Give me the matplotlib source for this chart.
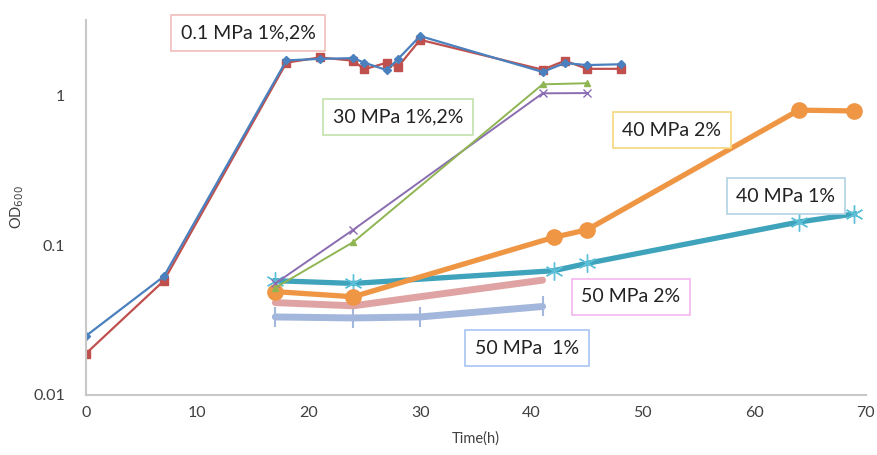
import matplotlib
matplotlib.use("Agg")
import matplotlib.pyplot as plt

# 0.1 MPa
t_01_1 = [0, 7, 18, 21, 24, 25, 27, 28, 30, 41, 43, 45, 48]
od_01_1 = [0.0248, 0.062, 1.72, 1.76, 1.78, 1.66, 1.48, 1.75, 2.50, 1.44, 1.65, 1.60, 1.62]
t_01_2 = [0, 7, 18, 21, 24, 25, 27, 28, 30, 41, 43, 45, 48]
od_01_2 = [0.0189, 0.058, 1.66, 1.80, 1.71, 1.50, 1.66, 1.55, 2.36, 1.49, 1.71, 1.51, 1.51]

# 30 MPa
t_30 = [17, 24, 41, 45]
od_30_1 = [0.0556, 0.127, 1.036, 1.04]
od_30_2 = [0.052, 0.105, 1.19, 1.21]

# 40 MPa
t_40 = [17, 24, 42, 45, 64, 69]
od_40_1 = [0.058, 0.0556, 0.0676, 0.0757, 0.143, 0.162]
od_40_2 = [0.049, 0.0453, 0.113, 0.127, 0.80, 0.79]

# 50 MPa
t_50 = [17, 24, 41]
od_50_2 = [0.0414, 0.0394, 0.0585]
t_50_1 = [17, 24, 30, 41]
od_50_1 = [0.0332, 0.0327, 0.0332, 0.039]

plt.rcParams['font.family'] = ['Lato', 'DejaVu Sans']

fig = plt.figure(figsize=(8.77, 4.55), dpi=100)
ax = fig.add_axes([0.098, 0.132, 0.889, 0.824])

star = (6, 2, 0)
ax.plot(t_50_1, od_50_1, color='#a3b6db', lw=5, marker='|', ms=14, mew=1.5, solid_capstyle='round')
ax.plot(t_50, od_50_2, color='#dfa3a3', lw=5, solid_capstyle='round')
ax.plot(t_40, od_40_1, color='#3ea3bb', lw=3.8, marker=star, ms=13, mew=1.0, mec='#5cc0d8')
ax.plot(t_40, od_40_2, color='#ef9645', lw=3.8, marker='o', ms=11)
ax.plot(t_30, od_30_1, color='#8a6db0', lw=1.4, marker='x', ms=6, mew=1.0)
ax.plot(t_30, od_30_2, color='#8fb553', lw=1.4, marker='^', ms=5)
ax.plot(t_01_2, od_01_2, color='#c0504d', lw=1.6, marker='s', ms=6)
ax.plot(t_01_1, od_01_1, color='#4a80bd', lw=1.6, marker='D', ms=4.5)

ax.set_yscale('log')
ax.set_ylim(0.01, 3.2)
ax.set_xlim(0, 70)
ax.set_yticks([0.01, 0.1, 1])
ax.set_yticklabels(['0.01', '0.1', '1'])
ax.minorticks_off()
ax.set_xticks(range(0, 71, 10))
ax.tick_params(length=0, labelsize=11.5, colors='#404040')
ax.tick_params(axis='x', pad=8)
ax.tick_params(axis='y', pad=15)
for s in ['top', 'right']:
    ax.spines[s].set_visible(False)
for s in ['left', 'bottom']:
    ax.spines[s].set_color('#c8c8c8')
    ax.spines[s].set_linewidth(1.5)

ax.set_xlabel('Time(h)', fontsize=10.5, color='#404040', labelpad=8)
ax.set_ylabel('OD$_{600}$', fontsize=10.5, color='#404040')
ax.yaxis.set_label_coords(-60 / 780, 0.5)

labels = [
    ('0.1 MPa 1%,2%', 248, 33, '#f2bcbc'),
    ('30 MPa 1%,2%', 398, 117, '#c2e0ac'),
    ('40 MPa 2%', 672, 130, '#f6d77c'),
    ('40 MPa 1%', 786, 196, '#b2d2e4'),
    ('50 MPa 2%', 631, 297, '#f3b6ef'),
    ('50 MPa  1%', 527, 348, '#a9c5f2'),
]
for txt, px, py, ec in labels:
    fig.text(px / 877, 1 - py / 455, txt, fontsize=14, color='#222222',
             ha='center', va='center',
             bbox=dict(boxstyle='square,pad=0.5', fc='white', ec=ec, lw=1.2))

fig.savefig('out.png', dpi=100)
